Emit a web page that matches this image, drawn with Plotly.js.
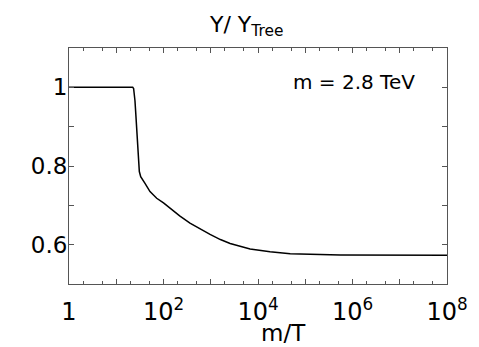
<!DOCTYPE html>
<html><head><meta charset="utf-8">
<script src="https://cdn.plot.ly/plotly-3.0.1.min.js"></script>
<style>html,body{margin:0;padding:0;background:#fff}#chart{width:479px;height:347px}</style>
</head><body><div id="chart"></div>
<script>
// m/T values and Y/Y_Tree
const mOverT = [1, 22.3, 23.3, 24.2, 24.9, 26.0, 27.1, 28.2, 29.3, 30.8, 32.9, 36.5, 40.6, 51.8, 71.8, 100, 137, 220, 363, 600, 967, 1600, 2570, 6800, 18000, 48000, 550000, 1e8];
const yRatio = [1.0, 1.0, 0.997, 0.985, 0.966, 0.93, 0.891, 0.848, 0.807, 0.786, 0.773, 0.763, 0.756, 0.735, 0.718, 0.706, 0.693, 0.673, 0.655, 0.639, 0.626, 0.613, 0.603, 0.589, 0.582, 0.577, 0.574, 0.573];
const xTickVals = [1, 10, 100, 1e3, 1e4, 1e5, 1e6, 1e7, 1e8];
const xTickText = ["1", "", "10<sup>2</sup>", "", "10<sup>4</sup>", "", "10<sup>6</sup>", "", "10<sup>8</sup>"];
const yTickVals = [0.6, 0.8, 1.0];
const yTickText = ["0.6", "0.8", "1"];
const yMinorVals = [0.7, 0.9];

const font = "DejaVu Sans, sans-serif";
const axisCol = "#555";

const trace = {
  x: mOverT, y: yRatio, type: "scatter", mode: "lines",
  line: {color: "#000", width: 1.5, shape: "linear"},
  hoverinfo: "skip"
};

const layout = {
  width: 479, height: 347,
  margin: {l: 69, r: 32, t: 48, b: 63},
  paper_bgcolor: "#fff", plot_bgcolor: "#fff",
  showlegend: false,
  font: {family: font, color: "#000"},
  title: {text: "Y/ Y<sub>Tree</sub>", font: {family: font, size: 22, color: "#000"},
          x: 0.515, xanchor: "center", y: 1 - 24/347, yanchor: "middle"},
  xaxis: {
    type: "log", range: [0, 8], showgrid: false, zeroline: false,
    showline: true, linecolor: axisCol, linewidth: 1, mirror: "allticks",
    ticks: "inside", ticklen: 5, tickcolor: axisCol, tickwidth: 1,
    tickmode: "array", tickvals: xTickVals, ticktext: xTickText,
    ticklabelstandoff: 6,
    tickfont: {family: font, size: 24, color: "#000"},
    minor: {dtick: "D2", ticks: "inside", ticklen: 3, tickcolor: axisCol, showgrid: false}
  },
  yaxis: {
    range: [0.5, 1.1], showgrid: false, zeroline: false,
    showline: true, linecolor: axisCol, linewidth: 1, mirror: "allticks",
    ticks: "inside", ticklen: 5, tickcolor: axisCol, tickwidth: 1,
    tickmode: "array", tickvals: yTickVals, ticktext: yTickText,
    ticklabelstandoff: -4,
    tickfont: {family: font, size: 23, color: "#000"},
    minor: {tickmode: "array", tickvals: yMinorVals, ticks: "inside", ticklen: 5, tickcolor: axisCol, showgrid: false}
  },
  annotations: [
    {text: "m = 2.8 TeV", xref: "paper", yref: "paper", x: 0.92, y: 1 - (82-48)/236,
     xanchor: "right", yanchor: "middle", showarrow: false,
     font: {family: font, size: 20, color: "#000"}},
    {text: "m/T", xref: "paper", yref: "paper", x: (283-69)/378, y: -(333-284)/236,
     xanchor: "center", yanchor: "middle", showarrow: false,
     font: {family: font, size: 23, color: "#000"}}
  ]
};

Plotly.newPlot("chart", [trace], layout, {staticPlot: true, displayModeBar: false});
</script>
</body></html>
